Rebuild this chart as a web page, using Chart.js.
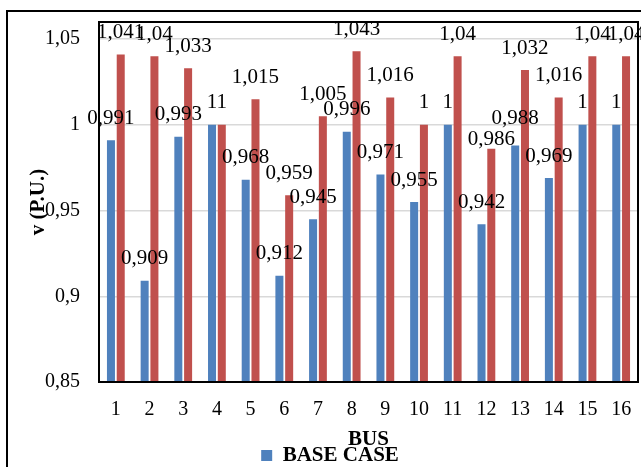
<!DOCTYPE html>
<html>
<head>
<meta charset="utf-8">
<script src="https://cdn.jsdelivr.net/npm/chart.js@4.4.1/dist/chart.umd.min.js"></script>
<style>
  html, body { margin: 0; padding: 0; background: #fff; overflow: hidden; width: 641px; height: 467px; }
  #frame { position: absolute; left: 6px; top: 10px; width: 700px; height: 520px; border: 2px solid #000; box-sizing: border-box; }
  #voltage { position: absolute; left: 0; top: 0; }
</style>
</head>
<body>
<div id="frame"></div>
<canvas id="voltage" width="641" height="476"></canvas>
<script>
var buses = ["1", "2", "3", "4", "5", "6", "7", "8", "9", "10", "11", "12", "13", "14", "15", "16"];
var baseCase = [0.991, 0.909, 0.993, 1, 0.968, 0.912, 0.945, 0.996, 0.971, 0.955, 1, 0.942, 0.988, 0.969, 1, 1];
var compensated = [1.041, 1.04, 1.033, 1, 1.015, 0.959, 1.005, 1.043, 1.016, 1, 1.04, 0.986, 1.032, 1.016, 1.04, 1.04];
var yTicks = [0.85, 0.9, 0.95, 1, 1.05];

var serif = "'Liberation Serif', 'Times New Roman', serif";

// a couple of labels were pulled apart by hand (dataset-index: extra px down)
var labelShift = { '1-11': 13, '0-12': -5 };

function comma(v) {
  return String(v).replace('.', ',');
}

// black box around the plot area
var plotBorder = {
  id: 'plotBorder',
  afterDatasetsDraw: function(chart) {
    var a = chart.chartArea;
    var ctx = chart.ctx;
    ctx.save();
    ctx.strokeStyle = '#000';
    ctx.lineWidth = 2;
    ctx.strokeRect(a.left, a.top, a.right - a.left, a.bottom - a.top);
    ctx.restore();
  }
};

// value above every bar
var valueLabels = {
  id: 'valueLabels',
  afterDatasetsDraw: function(chart) {
    var ctx = chart.ctx;
    ctx.save();
    ctx.font = '21px ' + serif;
    ctx.fillStyle = '#000';
    ctx.textAlign = 'center';
    ctx.textBaseline = 'middle';
    chart.data.datasets.forEach(function(ds, i) {
      chart.getDatasetMeta(i).data.forEach(function(bar, j) {
        var dy = labelShift[i + '-' + j] || 0;
        ctx.fillText(comma(ds.data[j]), bar.x, bar.y - 22 + dy);
      });
    });
    ctx.restore();
  }
};

var ctx = document.getElementById('voltage').getContext('2d');
var myChart = new Chart(ctx, {
  type: 'bar',
  plugins: [plotBorder, valueLabels],
  data: {
    labels: buses,
    datasets: [{
      label: 'BASE CASE',
      backgroundColor: '#4f81bd',
      data: baseCase
    }, {
      label: 'COMPENSATED',
      backgroundColor: '#c0504d',
      data: compensated
    }]
  },
  options: {
    responsive: false,
    animation: false,
    layout: { padding: { left: 22, right: 3, top: 22, bottom: 0 } },
    datasets: {
      bar: { categoryPercentage: 0.58, barPercentage: 0.82 }
    },
    plugins: {
      tooltip: { enabled: false },
      legend: {
        position: 'bottom',
        labels: {
          color: '#000',
          boxWidth: 11,
          boxHeight: 11,
          padding: 0,
          font: { family: serif, size: 21, weight: 'bold' },
          filter: function(item) { return item.datasetIndex === 0; }
        }
      }
    },
    scales: {
      x: {
        grid: { display: false },
        border: { display: false },
        ticks: { color: '#000', padding: 8, font: { family: serif, size: 20 } },
        title: {
          display: true,
          text: 'BUS',
          color: '#000',
          padding: 0,
          font: { family: serif, size: 21, weight: 'bold', lineHeight: 0.5 }
        },
        afterFit: function(scale) {
          scale.height = 63;
          scale.paddingLeft = 0;
          scale.paddingRight = 0;
        }
      },
      y: {
        min: 0.85,
        max: 1.06,
        grid: { color: '#d9d9d9', lineWidth: 1.5, drawTicks: false },
        border: { display: false },
        ticks: {
          color: '#000',
          padding: 19,
          font: { family: serif, size: 20 },
          callback: function(v) { return comma(v); }
        },
        afterBuildTicks: function(scale) {
          scale.ticks = yTicks.map(function(v) { return { value: v }; });
        },
        title: {
          display: true,
          text: 'v (P.U.)',
          color: '#000',
          font: { family: serif, size: 21, weight: 'bold' }
        },
        afterFit: function(scale) {
          scale.width = 77;
          scale.paddingTop = 0;
          scale.paddingBottom = 0;
        }
      }
    }
  }
});
</script>
</body>
</html>
